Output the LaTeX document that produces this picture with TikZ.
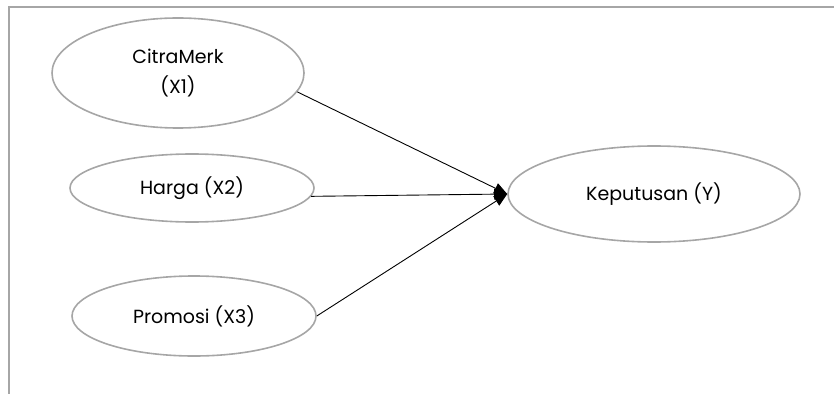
\documentclass[tikz,border=0pt]{standalone}
\usepackage{fontspec}
\setmainfont{Poppins}
\usetikzlibrary{shapes.geometric,arrows.meta}

\definecolor{framegray}{HTML}{A6A6A6}

\begin{document}
\begin{tikzpicture}[x=1pt,y=1pt,
  var/.style={draw=framegray,line width=1.6pt,shape=ellipse,inner sep=0pt,align=center,font=\fontsize{19}{30}\selectfont},
  arr/.style={-{Triangle[length=13pt,width=11pt]},line width=0.9pt,black}]
\useasboundingbox (0,0) rectangle (834,394);
%Frame
\draw[framegray,line width=2pt] (834,387) -- (9,387) -- (9,0);
%Nodes
\path
 (178,321) node[var,minimum width=252,minimum height=110] (citra) {CitraMerk\\(X1)}
 (192,206) node[var,minimum width=244,minimum height=68] (harga) {Harga (X2)}
 (194,78) node[var,minimum width=244,minimum height=80] (promosi) {Promosi (X3)}
 (654,200) node[var,minimum width=292,minimum height=96] (keputusan) {Keputusan (Y)}
 ;
%Edges
\draw[arr] (citra.-9) -- (keputusan.west);
\draw[arr] (harga.-4) -- (keputusan.west);
\draw[arr] (promosi.0) -- (keputusan.west);
\end{tikzpicture}
\end{document}
